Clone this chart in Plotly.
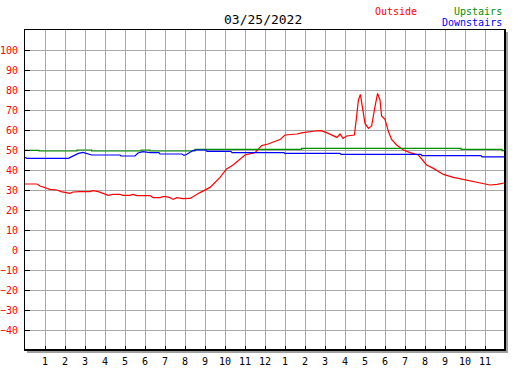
import plotly.graph_objects as go

# ---- data ----
outside_h = [0.0, 0.6, 0.75, 1.0, 1.25, 1.6, 1.8, 2.25, 2.4, 2.75, 3.25, 3.4, 3.67, 3.9, 4.17, 4.4, 4.75,
             4.9, 5.25, 5.4, 5.6, 6.25, 6.4, 6.75, 6.9, 7.05, 7.25, 7.4, 7.6, 7.9, 8.25, 8.75, 9.25, 9.75,
             10.08, 10.4, 11.0, 11.33, 11.5, 11.83, 12.15, 12.75, 13.0, 13.6, 13.9, 14.5, 14.8, 15.08, 15.6,
             15.75, 15.9, 16.08, 16.47, 16.58, 16.67, 16.77, 16.88, 17.0, 17.17, 17.33, 17.5, 17.63, 17.75,
             17.83, 18.0, 18.17, 18.33, 18.58, 18.92, 19.25, 19.67, 20.08, 20.42, 20.92, 21.42, 22.08,
             22.75, 23.25, 23.6, 23.95]
outside_v = [33, 33, 32, 31, 30.3, 30, 29.2, 28.3, 29, 29.2, 29.2, 29.7, 29.2, 28.3, 27.3, 27.8, 27.8,
             27.3, 27.3, 27.8, 27.2, 27.2, 26.2, 26.2, 26.7, 26.7, 26.2, 25.3, 26.2, 25.7, 25.8, 28.7, 31.3, 36.3,
             40.5, 42.5, 47.5, 48.3, 48.7, 52.2, 53, 55.2, 57.5, 58, 58.7, 59.5, 59.7, 58.7, 56.3,
             58, 55.8, 57, 57.5, 66.7, 75, 77.8, 71.7, 63.3, 60.8, 62, 71.7, 78.3, 75,
             67, 65.3, 59.2, 55.3, 52.5, 50, 48.7, 47.5, 42.5, 40.8, 37.8, 36.3, 34.8,
             33.3, 32.5, 32.8, 33.5]

upstairs_h = [0.0, 0.7, 2.6, 3.33, 5.8, 6.25, 8.5, 13.83, 21.8, 23.85, 24.0]
upstairs_v = [49.8, 49.5, 50.0, 49.5, 50.0, 49.5, 50.3, 50.8, 50.3, 49.7, 49.7]

downstairs_h = [0.0, 0.1, 2.17, 2.4, 2.67, 2.9, 3.1, 3.33, 4.75, 4.8, 5.5, 5.65, 5.9, 6.25, 6.7, 6.75,
                7.85, 7.95, 8.05, 8.4, 8.55, 9.05, 9.1, 10.3, 10.35, 12.95, 13.0, 13.05, 15.75, 15.8,
                19.8, 19.85, 22.8, 22.85, 24.0]
downstairs_v = [46.3, 45.8, 45.8, 46.8, 48.3, 48.8, 48.3, 47.5, 47.5, 47.0, 47.0, 48.5, 49.2, 48.7, 48.7, 48.0,
                48.0, 47.3, 47.6, 49.7, 50.0, 50.0, 49.3, 49.3, 48.7, 48.7, 48.2, 48.3, 48.3, 47.8,
                47.8, 47.2, 47.2, 46.6, 46.6]

x_tickvals = list(range(1, 24))
x_ticktext = ["1", "2", "3", "4", "5", "6", "7", "8", "9", "10", "11", "12",
              "1", "2", "3", "4", "5", "6", "7", "8", "9", "10", "11"]
y_tickvals = list(range(-40, 101, 10))

title_text = "03/25/2022"
FONT = "DejaVu Sans Mono"

fig = go.Figure()
fig.add_trace(go.Scatter(x=outside_h, y=outside_v, mode="lines", name="Outside",
                         line=dict(color="#ff0000", width=1.2)))
fig.add_trace(go.Scatter(x=upstairs_h, y=upstairs_v, mode="lines", name="Upstairs",
                         line=dict(color="#009000", width=1.2, shape="hv")))
fig.add_trace(go.Scatter(x=downstairs_h, y=downstairs_v, mode="lines", name="Downstairs",
                         line=dict(color="#0000ff", width=1.2)))

W, H = 527, 370
L, R, T, B = 25, 22, 30, 20
pw, ph = W - L - R, H - T - B

fig.update_layout(
    width=W, height=H,
    margin=dict(l=L, r=R, t=T, b=B, pad=0, autoexpand=False),
    paper_bgcolor="white", plot_bgcolor="white",
    showlegend=False,
    font=dict(family=FONT, size=10, color="black"),
)
fig.update_xaxes(range=[0, 24], tickvals=x_tickvals, ticktext=x_ticktext,
                 showgrid=True, gridcolor="#a8a8a8", gridwidth=1,
                 showline=True, linecolor="black", linewidth=1, mirror=True,
                 ticks="inside", ticklen=4, tickcolor="black", tickwidth=1,
                 tickfont=dict(family=FONT, size=10, color="black"),
                 ticklabelstandoff=2,
                 zeroline=False, fixedrange=True, automargin=False)
fig.update_yaxes(range=[-50, 110], tickvals=y_tickvals,
                 showgrid=True, gridcolor="#a8a8a8", gridwidth=1,
                 showline=True, linecolor="black", linewidth=1, mirror=True,
                 ticks="inside", ticklen=5, tickcolor="black", tickwidth=1,
                 tickfont=dict(family=FONT, size=10, color="#ff0000"),
                 ticklabelstandoff=4,
                 zeroline=False, fixedrange=True, automargin=False)

# thick right/bottom border with grey shadow
def px_x(p):
    return (p - L) / pw

def px_y(p):
    return (H - B - p) / ph

shapes = [
    dict(type="line", xref="paper", yref="paper", x0=px_x(507), x1=px_x(507), y0=px_y(32), y1=px_y(352),
         line=dict(color="#a0a0a0", width=2)),
    dict(type="line", xref="paper", yref="paper", x0=px_x(27), x1=px_x(508), y0=px_y(352), y1=px_y(352),
         line=dict(color="#a0a0a0", width=2)),
    dict(type="line", xref="paper", yref="paper", x0=1, x1=1, y0=px_y(351), y1=1,
         line=dict(color="black", width=2)),
    dict(type="line", xref="paper", yref="paper", x0=0, x1=px_x(506), y0=0, y1=0,
         line=dict(color="black", width=2)),
]
fig.update_layout(shapes=shapes)

ann = [
    dict(text=title_text, x=262.5, y=19.5, font=dict(family=FONT, size=13, color="black")),
    dict(text="Outside", x=372.5, y=11, xanchor="left", font=dict(family=FONT, size=10, color="#ff0000")),
    dict(text="Upstairs", x=504, y=11, xanchor="right", font=dict(family=FONT, size=10, color="#009000")),
    dict(text="Downstairs", x=504, y=23, xanchor="right", font=dict(family=FONT, size=10, color="#0000ff")),
]
for a in ann:
    a.update(xref="paper", yref="paper", showarrow=False, yanchor="middle")
    a.setdefault("xanchor", "center")
    a["x"] = px_x(a["x"])
    a["y"] = px_y(a["y"])
fig.update_layout(annotations=ann)

fig.write_html("out.html", config={"displayModeBar": False},
               post_script="document.body.style.margin='0';")
